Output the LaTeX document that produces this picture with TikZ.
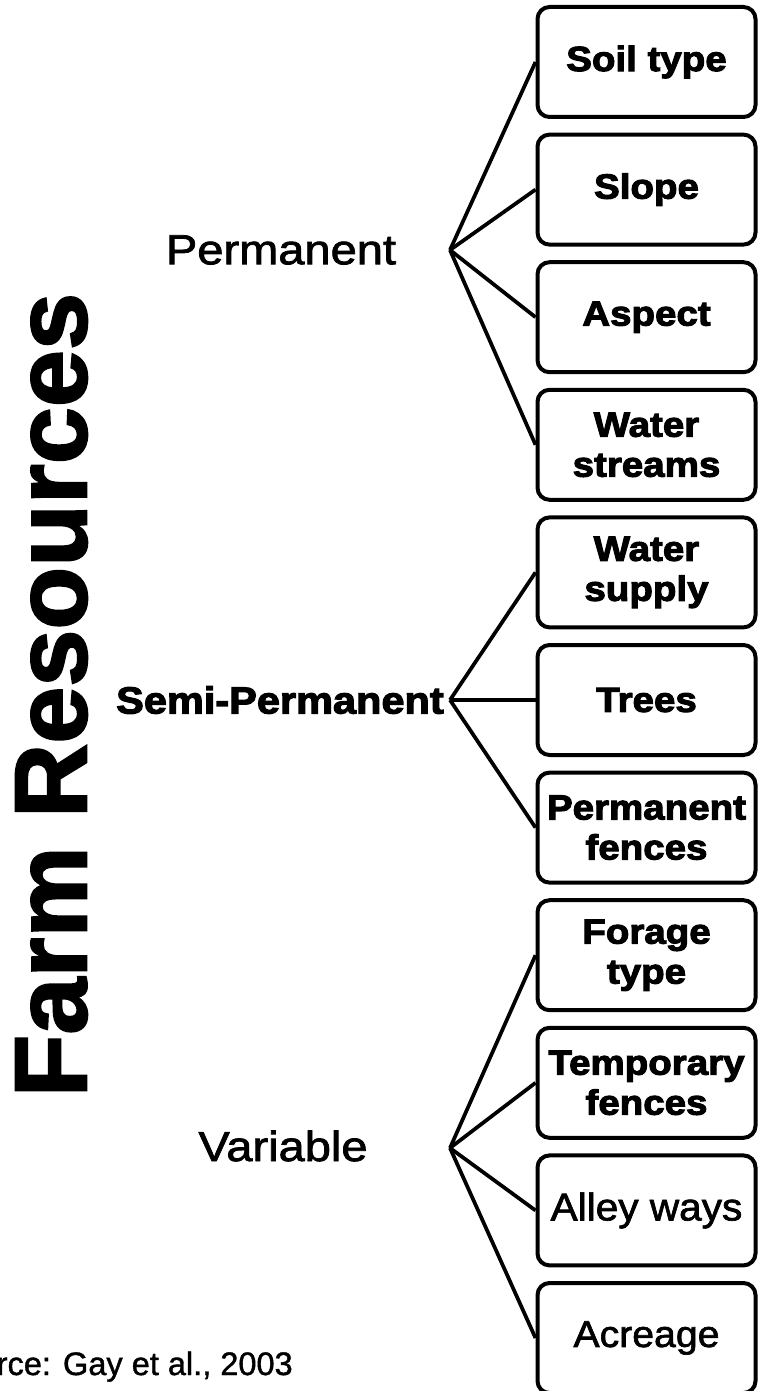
\documentclass[tikz,border=0pt]{standalone}
\usepackage{fontspec}
\setmainfont{Liberation Sans}
\newfontfamily\boxfont[FakeStretch=1.1, FakeBold=3]{Liberation Sans Bold}
\newfontfamily\wideplain[FakeStretch=1.12, FakeBold=1.8]{Liberation Sans}
\newfontfamily\boxplain[FakeStretch=1.05, FakeBold=1.8]{Liberation Sans}
\newfontfamily\titlefont[FakeBold=2]{Liberation Sans Bold}
\newfontfamily\srcfont[FakeBold=1.2]{Liberation Sans}
\usetikzlibrary{calc}

\tikzset{
  item/.style={draw, line width=3pt, rounded corners=9pt, align=center,
    minimum width=163.5pt, minimum height=82.5pt, inner sep=0pt,
    font=\boxfont\fontsize{26.25pt}{30pt}\selectfont},
  branch/.style={line width=2.8pt}
}

\begin{document}
\begin{tikzpicture}[x=0.75pt, y=-0.75pt]
  \useasboundingbox (0,0) rectangle (758,1391);

  \node [rotate=90, inner sep=0pt, font=\titlefont\fontsize{77pt}{77pt}\selectfont] (title) at (51.5, 695) {Farm Resources};

  \node [inner sep=0pt, font=\wideplain\fontsize{31.5pt}{31.5pt}\selectfont] (P) at (281, 250) {Permanent};
  \node [inner sep=0pt, anchor=east, font=\boxfont\fontsize{28.3pt}{28.3pt}\selectfont] (S) at (444, 700) {Semi-Permanent};
  \node [inner sep=0pt, font=\wideplain\fontsize{31.5pt}{31.5pt}\selectfont] (V) at (283, 1146) {Variable};

  \coordinate (jp) at (450, 250);
  \coordinate (js) at (450, 700);
  \coordinate (jv) at (450, 1148);

  \node [item] (p1) at (646.5,   62) {Soil type};
  \node [item] (p2) at (646.5,  189.6) {Slope};
  \node [item] (p3) at (646.5,  317.2) {Aspect};
  \node [item] (p4) at (646.5,  444.8) {Water\\streams};
  \node [item] (s1) at (646.5,  572.4) {Water\\supply};
  \node [item] (s2) at (646.5,  700) {Trees};
  \node [item] (s3) at (646.5,  827.6) {Permanent\\fences};
  \node [item] (v1) at (646.5,  955.2) {Forage\\type};
  \node [item] (v2) at (646.5, 1082.8) {Temporary\\fences};
  \node [item, font=\boxplain\fontsize{29pt}{29pt}\selectfont] (v3) at (646.5, 1210.4) {Alley ways};
  \node [item, font=\boxplain\fontsize{28pt}{28pt}\selectfont] (v4) at (646.5, 1338) {Acreage};

  \draw [branch] (jp) -- (p1.west);
  \draw [branch] (jp) -- (p2.west);
  \draw [branch] (jp) -- (p3.west);
  \draw [branch] (jp) -- (p4.west);

  \draw [branch] (js) -- (s1.west);
  \draw [branch] (js) -- (s2.west);
  \draw [branch] (js) -- (s3.west);

  \draw [branch] (jv) -- (v1.west);
  \draw [branch] (jv) -- (v2.west);
  \draw [branch] (jv) -- (v3.west);
  \draw [branch] (jv) -- (v4.west);

  \node [inner sep=0pt, anchor=base east, font=\srcfont\fontsize{24.4pt}{24.4pt}\selectfont] (src) at (293, 1375) {Source: Gay et al., 2003};
\end{tikzpicture}
\end{document}
